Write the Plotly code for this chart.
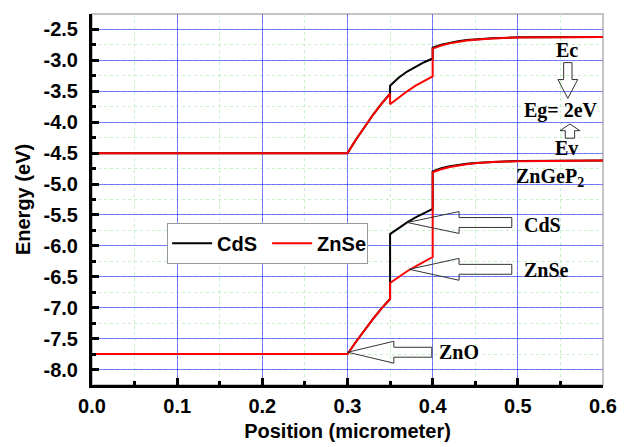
import plotly.graph_objects as go

# ---------------- data ----------------
# common ZnO region (both devices identical)
x_zno = [0.0, 0.3, 0.31, 0.32, 0.33, 0.34, 0.35]
ec_zno = [-4.5, -4.5, -4.28, -4.07, -3.88, -3.70, -3.54]
ev_zno = [-7.75, -7.75, -7.55, -7.36, -7.18, -7.01, -6.86]

# buffer region
x_buf = [0.35, 0.36, 0.37, 0.38, 0.39, 0.40]
cds_ec_buf = [-3.41, -3.28, -3.18, -3.10, -3.03, -2.97]
cds_ev_buf = [-5.81, -5.71, -5.62, -5.54, -5.47, -5.40]
znse_ec_buf = [-3.71, -3.60, -3.50, -3.41, -3.33, -3.26]
znse_ev_buf = [-6.60, -6.50, -6.41, -6.33, -6.25, -6.18]

# ZnGeP2 absorber region
x_abs = [0.40, 0.41, 0.42, 0.43, 0.44, 0.45, 0.47, 0.50, 0.55, 0.60]
cds_ec_abs = [-2.795, -2.745, -2.712, -2.69, -2.672, -2.66, -2.642, -2.628, -2.621, -2.62]
znse_ec_abs = [-2.81, -2.76, -2.725, -2.70, -2.68, -2.665, -2.645, -2.63, -2.622, -2.62]
cds_ev_abs = [-4.795, -4.745, -4.712, -4.69, -4.672, -4.66, -4.642, -4.628, -4.621, -4.62]
znse_ev_abs = [-4.81, -4.76, -4.725, -4.70, -4.68, -4.665, -4.645, -4.63, -4.622, -4.62]

x_ticks = [0.0, 0.1, 0.2, 0.3, 0.4, 0.5, 0.6]
y_ticks = [-8.0, -7.5, -7.0, -6.5, -6.0, -5.5, -5.0, -4.5, -4.0, -3.5, -3.0, -2.5]

series = [
    ("CdS", "black", cds_ec_buf, cds_ev_buf, cds_ec_abs, cds_ev_abs),
    ("ZnSe", "red", znse_ec_buf, znse_ev_buf, znse_ec_abs, znse_ev_abs),
]

fig = go.Figure()
for name, color, ec_b, ev_b, ec_a, ev_a in series:
    xs = x_zno + x_buf + x_abs
    fig.add_trace(go.Scatter(x=xs, y=ec_zno + ec_b + ec_a, mode="lines", name=name,
                             legendgroup=name, line=dict(color=color, width=2)))
    fig.add_trace(go.Scatter(x=xs, y=ev_zno + ev_b + ev_a, mode="lines", name=name,
                             legendgroup=name, showlegend=False,
                             line=dict(color=color, width=2)))

sans = "Liberation Sans, Arial, sans-serif"
serif = "Liberation Serif, Times New Roman, serif"

axis_common = dict(
    showline=True, linecolor="black", linewidth=3,
    ticks="inside", ticklen=7, tickwidth=3, tickcolor="black",
    showgrid=True, gridcolor="rgba(0,0,255,0.5)", gridwidth=1.2,
    zeroline=False, automargin=False,
    tickfont=dict(family=sans, size=20, color="black", weight="bold"),
)

fig.update_xaxes(range=[0, 0.6], tickvals=x_ticks, ticktext=[f"{v:.1f}" for v in x_ticks],
                 minor=dict(dtick=0.05, tick0=0, showgrid=True, gridcolor="#c8f0c8",
                            griddash="dot", ticks="inside", ticklen=4, tickwidth=3,
                            tickcolor="black"),
                 ticklabelstandoff=1,
                 title=dict(text="Position (micrometer)", standoff=8,
                            font=dict(family=sans, size=20, color="black", weight="bold")),
                 **axis_common)
fig.update_yaxes(range=[-8.25, -2.25], tickvals=y_ticks, ticktext=[f"{v:.1f}" for v in y_ticks],
                 minor=dict(dtick=0.25, tick0=-8.0, showgrid=True, gridcolor="#c8f0c8",
                            griddash="dot", ticks="inside", ticklen=4, tickwidth=3,
                            tickcolor="black"),
                 ticklabelstandoff=7,
                 title=dict(text="Energy (eV)", standoff=8,
                            font=dict(family=sans, size=20, color="black", weight="bold")),
                 **axis_common)

# ---------------- annotations ----------------
def left_arrow(tip_x, tip_y, head_x, tail_x, head_h=0.177, shaft_h=0.08):
    p = [(tip_x, tip_y), (head_x, tip_y + head_h), (head_x, tip_y + shaft_h),
         (tail_x, tip_y + shaft_h), (tail_x, tip_y - shaft_h), (head_x, tip_y - shaft_h),
         (head_x, tip_y - head_h)]
    return "M " + " L ".join(f"{a},{b}" for a, b in p) + " Z"

def vert_arrow(cx, tail_y, base_y, tip_y, shaft_hw, head_hw):
    p = [(cx - shaft_hw, tail_y), (cx + shaft_hw, tail_y), (cx + shaft_hw, base_y),
         (cx + head_hw, base_y), (cx, tip_y), (cx - head_hw, base_y), (cx - shaft_hw, base_y)]
    return "M " + " L ".join(f"{a},{b}" for a, b in p) + " Z"

arrow_line = dict(color="#333333", width=1)
shapes = [
    dict(type="rect", xref="paper", yref="paper", x0=0, x1=1, y0=0, y1=1,
         line=dict(color="#c4c4c4", width=2), layer="below"),
    dict(type="path", path=left_arrow(0.3702, -5.622, 0.431, 0.4929), line=arrow_line),
    dict(type="path", path=left_arrow(0.3725, -6.379, 0.431, 0.4929), line=arrow_line),
    dict(type="path", path=left_arrow(0.3003, -7.72, 0.3544, 0.399), line=arrow_line),
    dict(type="path", path=vert_arrow(0.5587, -3.036, -3.310, -3.615, 0.0049, 0.0116), line=arrow_line),
    dict(type="path", path=vert_arrow(0.5612, -4.259, -4.137, -4.029, 0.0055, 0.0117), line=arrow_line),
]

ann_font = dict(family=serif, size=20, color="black", weight="bold")
labels = [
    ("Ec", 0.5577, -2.838, "center"),
    ("Eg= 2eV", 0.551, -3.815, "center"),
    ("Ev", 0.5577, -4.42, "center"),
    ("ZnGeP<sub>2</sub>", 0.5377, -4.90, "center"),
    ("CdS", 0.5047, -5.67, "left"),
    ("ZnSe", 0.5047, -6.395, "left"),
    ("ZnO", 0.405, -7.715, "left"),
]
annotations = [dict(text=t, x=x, y=y, xref="x", yref="y", showarrow=False,
                    xanchor=a, yanchor="middle", font=ann_font) for t, x, y, a in labels]

fig.update_layout(
    width=633, height=447,
    margin=dict(l=92, r=30, t=14, b=62),
    paper_bgcolor="white", plot_bgcolor="white",
    shapes=shapes, annotations=annotations,
    legend=dict(orientation="h", x=0.147, y=0.437, xanchor="left", yanchor="top",
                bgcolor="white", bordercolor="#999999", borderwidth=1,
                font=dict(family=sans, size=20, color="black", weight="bold"),
                tracegroupgap=0, itemwidth=40,
                entrywidth=45, entrywidthmode="pixels"),
    showlegend=True,
)

fig.write_html("out.html", config={"displayModeBar": False},
               post_script="document.body.style.margin='0px';")
